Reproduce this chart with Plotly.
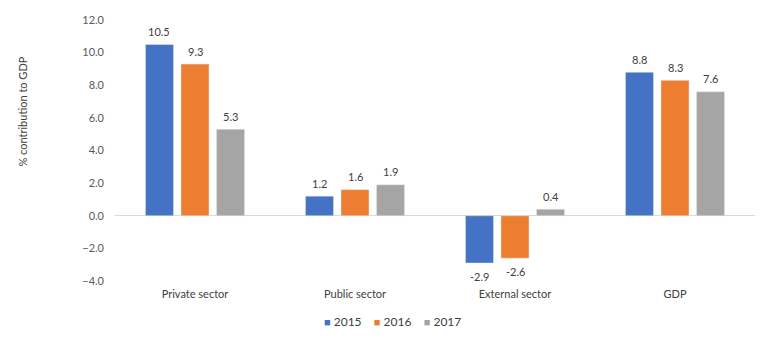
import plotly.graph_objects as go

categories = ["Private sector", "Public sector", "External sector", "GDP"]
years = ["2015", "2016", "2017"]
v2015 = [10.5, 1.2, -2.9, 8.8]
v2016 = [9.3, 1.6, -2.6, 8.3]
v2017 = [5.3, 1.9, 0.4, 7.6]
colors = ["#4472C4", "#ED7D31", "#A5A5A5"]
ytickvals = [-4, -2, 0, 2, 4, 6, 8, 10, 12]
ytitle = "% contribution to GDP"

FONT = "Lato, 'Open Sans', sans-serif"
W, H = 780, 340
ML, MR, MT, MB = 115, 25, 20, 59
BARGAP, GROUPGAP = 0.334, 0.21

fig = go.Figure()
for name, vals, col in zip(years, [v2015, v2016, v2017], colors):
    fig.add_trace(go.Bar(x=categories, y=vals, name=name, marker_color=col,
                         showlegend=False))

# data labels as annotations offset from the bar ends
cat_px = (W - ML - MR) / len(categories)
slot_px = cat_px * (1 - BARGAP) / len(years)
annotations = []
for i, vals in enumerate([v2015, v2016, v2017]):
    for c, v in zip(categories, vals):
        annotations.append(dict(
            x=c, y=v, xref="x", yref="y", text=f"{v:.1f}", showarrow=False,
            xshift=(i - 1) * slot_px, yshift=13 if v >= 0 else -13,
            font=dict(size=11, color="#404040", family=FONT),
        ))

# y-axis title placed like the original (above the plot's vertical centre)
annotations.append(dict(
    text=ytitle, xref="paper", yref="paper", x=-0.145, y=0.65,
    xanchor="center", yanchor="middle", textangle=-90, showarrow=False,
    font=dict(size=11, color="#404040", family=FONT),
))

# compact legend (small squares close to their labels), as text
legend_text = "&nbsp;&nbsp;&nbsp;&nbsp;".join(
    f"<span style='color:{c};font-size:11px'>■</span> {y}" for y, c in zip(years, colors)
)
annotations.append(dict(
    text=legend_text, xref="paper", yref="paper", x=0.433, y=-0.157,
    xanchor="center", yanchor="middle", showarrow=False,
    font=dict(size=12, color="#404040", family=FONT),
))

fig.update_layout(
    width=W, height=H,
    margin=dict(l=ML, r=MR, t=MT, b=MB, autoexpand=False),
    paper_bgcolor="white", plot_bgcolor="white",
    barmode="group", bargap=BARGAP, bargroupgap=GROUPGAP,
    font=dict(family=FONT, size=11, color="#595959"),
    showlegend=False,
    annotations=annotations,
    xaxis=dict(showgrid=False, showline=False, ticks="", ticklabelstandoff=5,
               tickfont=dict(size=11, color="#404040")),
    yaxis=dict(range=[-4, 12], tickvals=ytickvals, tickformat=".1f",
               showgrid=False, zeroline=True, zerolinecolor="#D9D9D9", zerolinewidth=1,
               ticks="", ticklabelstandoff=10),
)

fig.write_html("out.html")
